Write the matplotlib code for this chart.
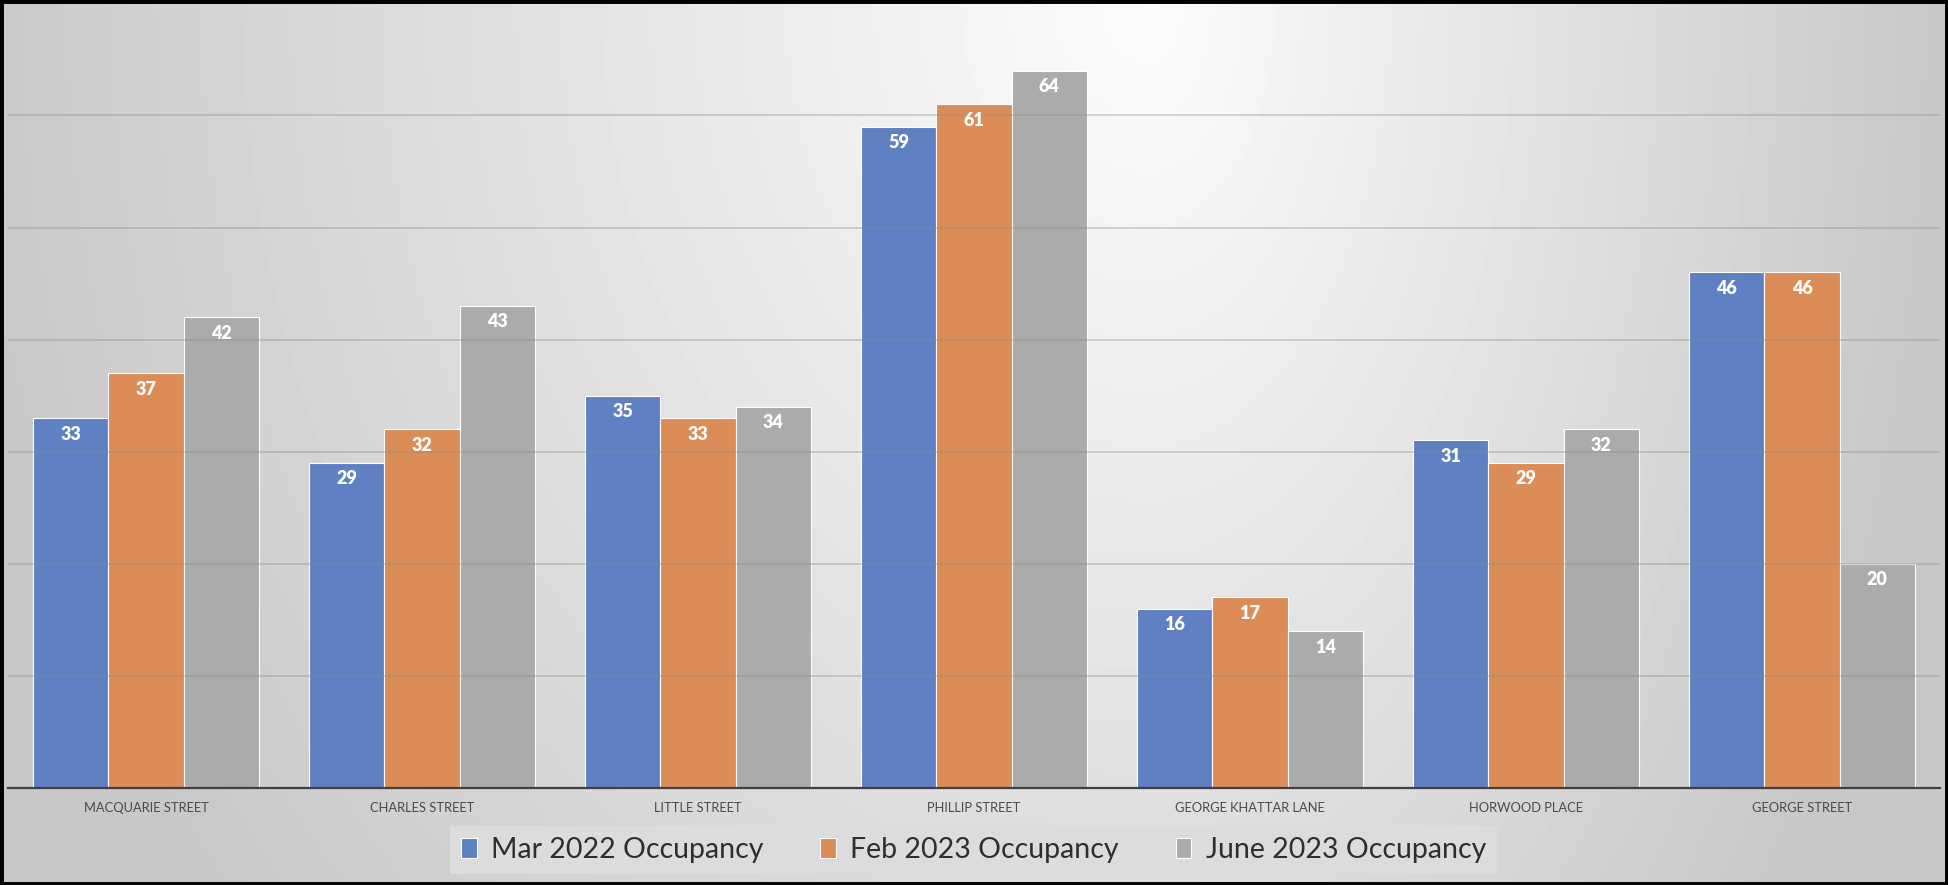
import numpy as np
import matplotlib.pyplot as plt
from matplotlib.patches import Rectangle

# occupancy counts per street
streets = ['MACQUARIE STREET', 'CHARLES STREET', 'LITTLE STREET', 'PHILLIP STREET',
           'GEORGE KHATTAR LANE', 'HORWOOD PLACE', 'GEORGE STREET']
series_names = ['Mar 2022 Occupancy', 'Feb 2023 Occupancy', 'June 2023 Occupancy']
mar_2022 = [33, 29, 35, 59, 16, 31, 46]
feb_2023 = [37, 32, 33, 61, 17, 29, 46]
jun_2023 = [42, 43, 34, 64, 14, 32, 20]
colors = ['#5f80c3', '#dc8c57', '#ababab']

plt.rcParams['font.family'] = ['Lato', 'DejaVu Sans']

W, H = 1948, 885
fig = plt.figure(figsize=(W / 100, H / 100), dpi=100)

# gray gradient background, lightest near top centre-right
bg = fig.add_axes([0, 0, 1, 1], zorder=-10)
xx, yy = np.meshgrid(np.arange(W), np.arange(H))
dx = xx - 1150.0
sx = np.where(dx < 0, 1150.0, 760.0)
d = np.sqrt((dx / sx) ** 2 + (yy / 1400.0) ** 2)
v = np.clip(0.99 - 0.20 * d, 0.785, 1.0)
bg.imshow(v, cmap='gray', vmin=0, vmax=1, aspect='auto', extent=(0, W, H, 0))
bg.axis('off')

ax = fig.add_axes([8 / W, 1 - 788 / H, 1932 / W, 784.7 / H])
ax.set_facecolor('none')

x = np.arange(len(streets))
bw = 0.272
all_series = [mar_2022, feb_2023, jun_2023]
for i, (vals, name, col) in enumerate(zip(all_series, series_names, colors)):
    bars = ax.bar(x + (i - 1) * bw, vals, bw, color=col, edgecolor='white',
                  linewidth=0.8, label=name, zorder=2)
    for b, val in zip(bars, vals):
        ax.annotate(str(val), (b.get_x() + b.get_width() / 2, b.get_height()),
                    xytext=(0, -11.5), textcoords='offset points', ha='center',
                    va='center', color='white', fontsize=13, fontweight='heavy', zorder=4)

ax.set_xlim(-0.5, len(streets) - 0.5)
ax.set_ylim(0, 70)
ax.set_yticks(np.arange(10, 70, 10))
ax.yaxis.grid(True, color='#8a8a8a', alpha=0.4, linewidth=1.2, zorder=3)
ax.set_axisbelow(False)
ax.tick_params(axis='y', left=False, labelleft=False)
ax.tick_params(axis='x', length=0, pad=10, labelsize=9.3, labelcolor='#4a4a4a')
ax.set_xticks(x)
ax.set_xticklabels(streets)
for s in ['top', 'right', 'left']:
    ax.spines[s].set_visible(False)
ax.spines['bottom'].set_color('#404040')
ax.spines['bottom'].set_linewidth(1.6)

leg = fig.legend(loc='center', bbox_to_anchor=(973.5 / W, 1 - 850 / H), ncol=3,
                 fontsize=20.5, frameon=True, fancybox=False, handlelength=0.55,
                 handleheight=0.75, handletextpad=0.5, columnspacing=2.0,
                 borderpad=0.4, borderaxespad=0)
leg.get_frame().set_facecolor('#dcdcdc')
leg.get_frame().set_edgecolor('none')
leg.get_frame().set_alpha(1)
for t in leg.get_texts():
    t.set_color('#2e2e2e')

# black frame around the whole picture
fig.patches.append(Rectangle((0, 0), 1, 1, transform=fig.transFigure, fill=False,
                             edgecolor='black', linewidth=5, zorder=10))

fig.savefig('out.png', dpi=100)
